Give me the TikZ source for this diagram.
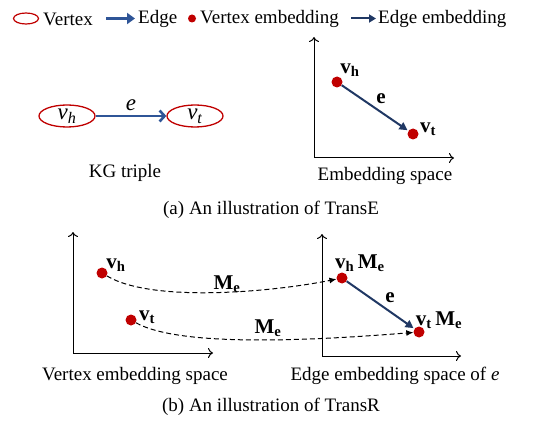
\documentclass[tikz,border=0pt]{standalone}
\usepackage{fontspec}
\setmainfont{Liberation Serif}
\usetikzlibrary{arrows.meta,shapes.geometric}
\definecolor{vred}{HTML}{C00000}
\definecolor{eblue}{HTML}{2F5597}
\definecolor{enavy}{HTML}{203864}
\newcommand{\bv}[1]{\textbf{v}\textsubscript{\textbf{#1}}}
\newcommand{\bM}{\textbf{M}\textsubscript{\textbf{e}}}
\newcommand{\iv}[1]{\textit{v}\textsubscript{\textit{#1}}}
\begin{document}
\begin{tikzpicture}[x=1pt,y=-1pt,
  every node/.style={font=\fontsize{19}{22}\selectfont, inner sep=0pt},
  vertex/.style={ellipse, draw=vred, line width=1.3pt, minimum width=56, minimum height=22, font=\fontsize{23}{24}\selectfont},
  dot/.style={circle, fill=vred, minimum size=11},
  axisline/.style={-{To[length=5,width=10]}, line width=1pt},
  embarrow/.style={-{Triangle[length=8,width=8]}, enavy, line width=2pt},
  kgarrow/.style={-{Straight Barb[length=5,width=11]}, eblue, line width=2.6pt},
  mapping/.style={-{Latex[length=7,width=6]}, line width=1pt, dash pattern=on 5pt off 3pt},
  lbl/.style={font=\fontsize{21}{23}\selectfont\bfseries}]
\useasboundingbox (0,0) rectangle (540,422);
% legend
\node[ellipse, draw=vred, line width=1.2pt, minimum width=25, minimum height=11] (lv) at (26,18.5) {};
\node[anchor=west] (lvt) at (43,19) {Vertex};
\coordinate (le1) at (106,18.5);
\coordinate (le2) at (135,18.5);
\draw[-{Triangle[length=8,width=11]}, eblue, line width=2.6pt] (le1) -- (le2);
\node[anchor=west] (let) at (138,19) {Edge};
\node[circle, fill=vred, minimum size=8] (ld) at (192,18.5) {};
\node[anchor=west] (ldt) at (200,19) {Vertex embedding};
\coordinate (lm1) at (351,18.5);
\coordinate (lm2) at (376,18.5);
\draw[-{Triangle[length=7,width=8]}, enavy, line width=2pt] (lm1) -- (lm2);
\node[anchor=west] (lmt) at (378,19) {Edge embedding};
% KG triple
\node[vertex] (vh) at (67,116) {\iv{h}};
\node[vertex] (vt) at (195,116) {\iv{t}};
\draw[kgarrow] (vh) -- node[above=4pt, text=black, font=\fontsize{23}{24}\selectfont] (el) {\textit{e}} (vt);
\node (kg) at (125,173) {KG triple};
% Embedding space (TransE)
\coordinate (o1) at (314,158);
\coordinate (y1) at (314,37);
\coordinate (x1) at (454,158);
\draw[axisline] (o1) -- (y1);
\draw[axisline] (o1) -- (x1);
\node[dot] (ah) at (337,82) {};
\node[dot] (at) at (413,134) {};
\draw[embarrow, shorten >=1pt] (ah) -- (at);
\node[lbl] (ahl) at (350,70) {\bv{h}};
\node[lbl] (atl) at (428,129) {\bv{t}};
\node[lbl] (ael) at (381,99) {e};
\node (es) at (385,176) {Embedding space};
\node (capa) at (271,210) {(a) An illustration of TransE};
% Vertex embedding space (TransR)
\coordinate (o2) at (73,353);
\coordinate (y2) at (73,232);
\coordinate (x2) at (213,353);
\draw[axisline] (o2) -- (y2);
\draw[axisline] (o2) -- (x2);
\node[dot] (bh) at (102,273) {};
\node[dot] (bt) at (131,320) {};
\node[lbl] (bhl) at (116,265) {\bv{h}};
\node[lbl] (btl) at (147,317) {\bv{t}};
% Edge embedding space
\coordinate (o3) at (322,356);
\coordinate (y3) at (322,234);
\coordinate (x3) at (461,356);
\draw[axisline] (o3) -- (y3);
\draw[axisline] (o3) -- (x3);
\node[dot] (ch) at (342,278) {};
\node[dot] (ct) at (419,332) {};
\draw[embarrow, shorten >=1pt] (ch) -- (ct);
\node[lbl] (chl) at (360,263) {\bv{h}\,\bM};
\node[lbl] (ctl) at (439,320) {\bv{t}\,\bM};
\node[lbl] (cel) at (390,298) {e};
% mappings
\draw[mapping] (bh) .. controls +(50,30) and +(-70,14) .. (ch);
\draw[mapping] (bt) .. controls +(50,28) and +(-100,8) .. (ct);
\node[lbl] (m1) at (227,284) {\bM};
\node[lbl] (m2) at (268,328) {\bM};
\node (ves) at (135,376) {Vertex embedding space};
\node (ees) at (395,376) {Edge embedding space of \textit{e}};
\node (capb) at (271,407) {(b) An illustration of TransR};
\end{tikzpicture}
\end{document}
